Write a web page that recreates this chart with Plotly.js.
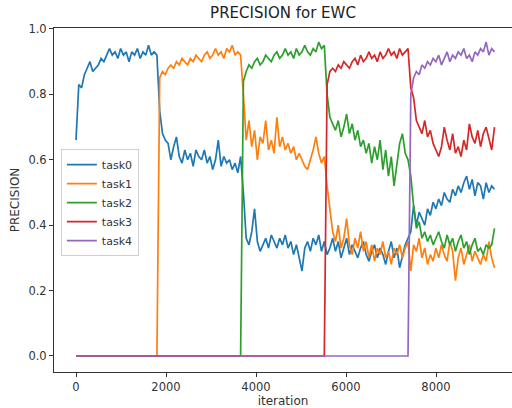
<!DOCTYPE html>
<html>
<head>
<meta charset="utf-8">
<script src="https://cdn.plot.ly/plotly-3.0.1.min.js"></script>
<style>html,body{margin:0;padding:0;background:#fff}#chart{width:512px;height:408px}</style>
</head>
<body>
<div id="chart"></div>
<script>
// evaluation schedule: one point every 62 iterations, 0..9300
const iteration = Array.from({length: 151}, (_, i) => i * 62);

const seriesNames = ["task0", "task1", "task2", "task3", "task4"];
const seriesColors = ["#1f77b4", "#ff7f0e", "#2ca02c", "#d62728", "#9467bd"];

const task0 = [
  0.66,0.83,0.82,0.86,0.88,0.90,0.87,0.88,0.89,0.91,0.90,0.92,0.94,0.92,0.93,0.91,0.94,0.92,0.93,0.90,0.93,0.92,0.94,0.91,0.93,0.92,0.95,0.92,0.93,0.92,
  0.75,0.68,0.66,0.65,0.60,0.64,0.67,0.61,0.59,0.63,0.60,0.62,0.58,0.63,0.61,0.60,0.63,0.59,0.61,0.57,0.60,0.66,0.58,0.61,0.59,0.60,0.57,0.59,0.56,0.61,
  0.50,0.36,0.34,0.38,0.45,0.35,0.32,0.34,0.36,0.33,0.37,0.35,0.33,0.36,0.34,0.37,0.33,0.35,0.31,0.34,0.30,0.26,0.33,0.35,0.32,0.36,0.34,0.37,0.32,0.35,
  0.31,0.33,0.36,0.32,0.35,0.30,0.33,0.36,0.31,0.34,0.32,0.30,0.33,0.35,0.31,0.29,0.32,0.34,0.30,0.33,0.31,0.28,0.32,0.35,0.30,0.33,0.27,0.31,0.34,0.36,
  0.38,0.46,0.40,0.44,0.42,0.40,0.45,0.43,0.47,0.45,0.48,0.46,0.50,0.48,0.47,0.51,0.49,0.52,0.50,0.53,0.55,0.51,0.54,0.49,0.53,0.52,0.48,0.53,0.50,0.52,0.51
];
const task1 = [
  0,0,0,0,0,0,0,0,0,0,0,0,0,0,0,0,0,0,0,0,0,0,0,0,0,0,0,0,0,0,
  0.85,0.87,0.86,0.88,0.89,0.88,0.90,0.89,0.91,0.90,0.89,0.91,0.90,0.92,0.91,0.90,0.92,0.93,0.91,0.92,0.94,0.92,0.93,0.91,0.94,0.93,0.95,0.92,0.93,0.92,
  0.80,0.66,0.72,0.64,0.69,0.60,0.67,0.65,0.72,0.63,0.66,0.62,0.73,0.64,0.67,0.63,0.65,0.62,0.64,0.60,0.62,0.60,0.58,0.57,0.60,0.63,0.67,0.62,0.59,0.61,
  0.52,0.45,0.38,0.35,0.40,0.33,0.36,0.42,0.34,0.31,0.36,0.33,0.38,0.32,0.35,0.30,0.34,0.29,0.33,0.31,0.35,0.30,0.32,0.28,0.33,0.31,0.34,0.30,0.33,0.35,
  0.26,0.34,0.32,0.36,0.30,0.33,0.28,0.31,0.29,0.33,0.30,0.34,0.31,0.29,0.35,0.32,0.23,0.30,0.33,0.28,0.31,0.34,0.29,0.32,0.30,0.28,0.31,0.29,0.35,0.30,0.27
];
const task2 = [
  0,0,0,0,0,0,0,0,0,0,0,0,0,0,0,0,0,0,0,0,0,0,0,0,0,0,0,0,0,0,
  0,0,0,0,0,0,0,0,0,0,0,0,0,0,0,0,0,0,0,0,0,0,0,0,0,0,0,0,0,0,
  0.84,0.87,0.89,0.88,0.90,0.91,0.89,0.90,0.92,0.91,0.90,0.92,0.93,0.91,0.92,0.94,0.92,0.93,0.91,0.94,0.92,0.93,0.95,0.93,0.92,0.94,0.93,0.96,0.94,0.95,
  0.80,0.73,0.71,0.69,0.72,0.67,0.70,0.74,0.68,0.71,0.66,0.69,0.64,0.66,0.62,0.65,0.59,0.64,0.60,0.66,0.57,0.63,0.55,0.61,0.52,0.58,0.65,0.68,0.62,0.60,
  0.55,0.46,0.39,0.41,0.36,0.38,0.35,0.37,0.34,0.36,0.38,0.35,0.33,0.37,0.34,0.36,0.32,0.35,0.37,0.33,0.35,0.31,0.34,0.36,0.32,0.33,0.31,0.34,0.33,0.34,0.39
];
const task3 = [
  0,0,0,0,0,0,0,0,0,0,0,0,0,0,0,0,0,0,0,0,0,0,0,0,0,0,0,0,0,0,
  0,0,0,0,0,0,0,0,0,0,0,0,0,0,0,0,0,0,0,0,0,0,0,0,0,0,0,0,0,0,
  0,0,0,0,0,0,0,0,0,0,0,0,0,0,0,0,0,0,0,0,0,0,0,0,0,0,0,0,0,0,
  0.83,0.87,0.88,0.87,0.89,0.88,0.90,0.89,0.88,0.90,0.91,0.89,0.92,0.90,0.91,0.93,0.91,0.92,0.90,0.93,0.91,0.92,0.94,0.92,0.93,0.91,0.94,0.92,0.93,0.94,
  0.82,0.79,0.72,0.70,0.68,0.72,0.67,0.69,0.65,0.63,0.61,0.64,0.70,0.66,0.63,0.68,0.62,0.64,0.61,0.66,0.63,0.71,0.67,0.65,0.69,0.64,0.68,0.70,0.66,0.63,0.70
];
const task4 = [
  0,0,0,0,0,0,0,0,0,0,0,0,0,0,0,0,0,0,0,0,0,0,0,0,0,0,0,0,0,0,
  0,0,0,0,0,0,0,0,0,0,0,0,0,0,0,0,0,0,0,0,0,0,0,0,0,0,0,0,0,0,
  0,0,0,0,0,0,0,0,0,0,0,0,0,0,0,0,0,0,0,0,0,0,0,0,0,0,0,0,0,0,
  0,0,0,0,0,0,0,0,0,0,0,0,0,0,0,0,0,0,0,0,0,0,0,0,0,0,0,0,0,0,
  0.80,0.85,0.87,0.86,0.89,0.88,0.90,0.89,0.91,0.90,0.92,0.89,0.91,0.93,0.90,0.92,0.91,0.93,0.92,0.94,0.91,0.92,0.90,0.93,0.92,0.94,0.93,0.96,0.92,0.94,0.93
];

const xTicks = [0, 2000, 4000, 6000, 8000];
const yTicks = [0.0, 0.2, 0.4, 0.6, 0.8, 1.0];

const allSeries = [task0, task1, task2, task3, task4];
const traces = allSeries.map((vals, k) => ({
  x: iteration,
  y: vals,
  type: "scatter",
  mode: "lines",
  name: seriesNames[k],
  line: {color: seriesColors[k], width: 1.7}
}));

const tickFont = {family: "DejaVu Sans, sans-serif", size: 11.5, color: "#333"};
const labelFont = {family: "DejaVu Sans, sans-serif", size: 12, color: "#333"};

const layout = {
  width: 512,
  height: 408,
  margin: {l: 54, r: 0, t: 28, b: 36},
  paper_bgcolor: "#fff",
  plot_bgcolor: "#fff",
  font: tickFont,
  showlegend: true,
  title: {
    text: "PRECISION for EWC",
    font: {family: "DejaVu Sans, sans-serif", size: 15, color: "#222"},
    x: 0.5, xref: "paper",
    y: 1 - 13 / 408, yref: "container", yanchor: "middle"
  },
  xaxis: {
    range: [-489, 9689],
    tickvals: xTicks,
    ticktext: xTicks.map(String),
    ticks: "outside", ticklen: 4, tickwidth: 1, tickcolor: "#333",
    showline: true, linecolor: "#333", linewidth: 1, mirror: true,
    showgrid: false, zeroline: false,
    tickfont: tickFont,
    title: {text: "iteration", font: labelFont, standoff: 6}
  },
  yaxis: {
    range: [-0.049, 1.003],
    tickvals: yTicks,
    ticktext: yTicks.map(v => v.toFixed(1)),
    ticks: "outside", ticklen: 4, tickwidth: 1, tickcolor: "#333",
    showline: true, linecolor: "#333", linewidth: 1, mirror: true,
    showgrid: false, zeroline: false,
    tickfont: tickFont,
    title: {text: "PRECISION", font: labelFont, standoff: 6}
  },
  legend: {
    x: 0.015, y: 0.648, xanchor: "left", yanchor: "top",
    bgcolor: "rgba(255,255,255,0.9)",
    bordercolor: "#d0d0d0", borderwidth: 1,
    font: {family: "DejaVu Sans, sans-serif", size: 11, color: "#333"},
    tracegroupgap: 0
  }
};

Plotly.newPlot("chart", traces, layout, {staticPlot: true, displayModeBar: false});
</script>
</body>
</html>
